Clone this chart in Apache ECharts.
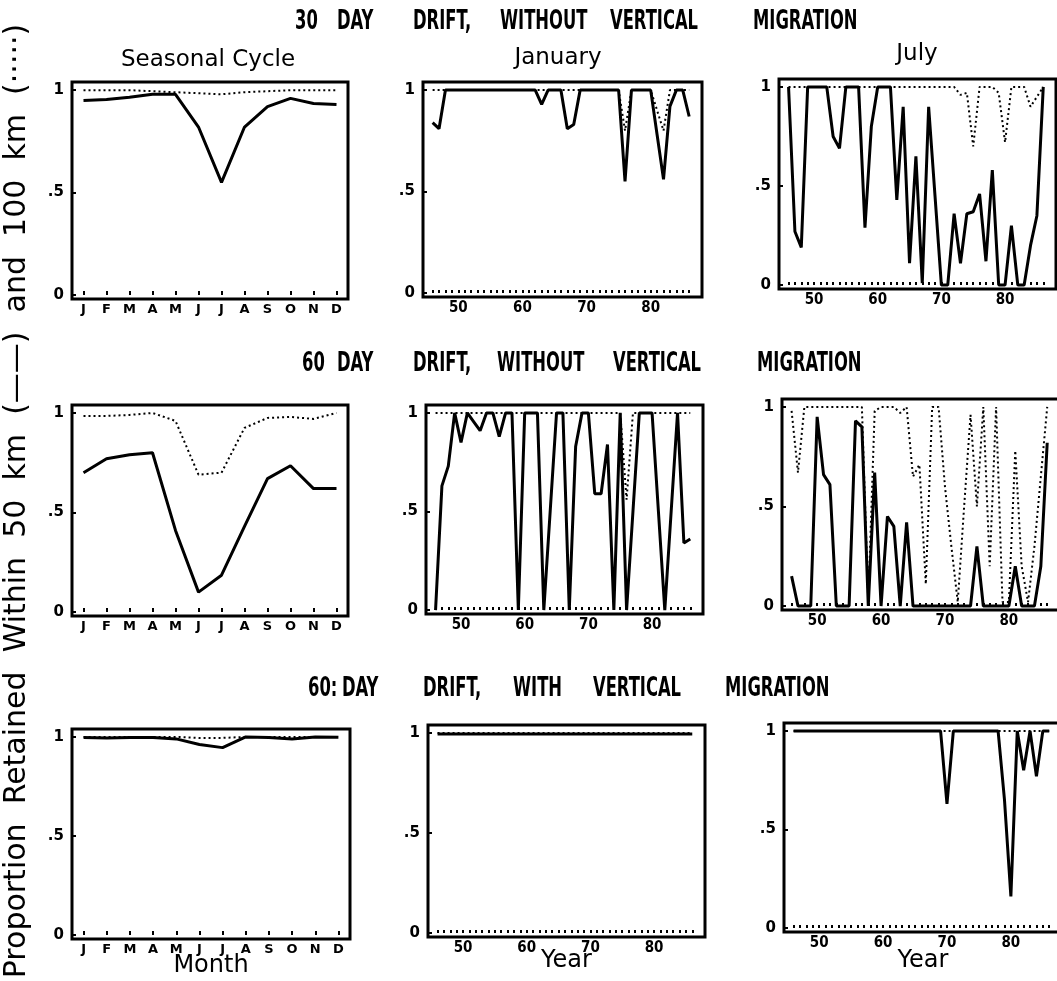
<!DOCTYPE html>
<html>
<head>
<meta charset="utf-8">
<script src="https://cdn.jsdelivr.net/npm/echarts@6/dist/echarts.min.js"></script>
<style>
  html, body { margin: 0; padding: 0; background: #fff; }
  #chart { width: 1057px; height: 981px; }
</style>
</head>
<body>
<div id="chart"></div>
<script>
// tick labels / categories
var months = ['J', 'F', 'M', 'A', 'M', 'J', 'J', 'A', 'S', 'O', 'N', 'D'];
var years = [46, 47, 48, 49, 50, 51, 52, 53, 54, 55, 56, 57, 58, 59, 60, 61, 62, 63, 64, 65,
             66, 67, 68, 69, 70, 71, 72, 73, 74, 75, 76, 77, 78, 79, 80, 81, 82, 83, 84, 85, 86];
var yearLabels = [50, 60, 70, 80];
var valueLabels = [0, 0.5, 1];

var rowTitles = [
    ['30', 'DAY', 'DRIFT,', 'WITHOUT', 'VERTICAL', 'MIGRATION'],
    ['60', 'DAY', 'DRIFT,', 'WITHOUT', 'VERTICAL', 'MIGRATION'],
    ['60:', 'DAY', 'DRIFT,', 'WITH', 'VERTICAL', 'MIGRATION']
];
var columnTitles = ['Seasonal Cycle', 'January', 'July'];
var yName = 'Proportion  Retained  Within  50  km  (——)  and  100  km  (·····)';

// 30 day drift, without vertical migration
var season30Solid  = [0.95, 0.955, 0.965, 0.98, 0.98, 0.82, 0.55, 0.82, 0.92, 0.96, 0.935, 0.93];
var season30Dotted = [1, 1, 1, 0.995, 0.99, 0.985, 0.98, 0.99, 0.995, 1, 1, 1];
var jan30Solid  = [0.84, 0.81, 1, 1, 1, 1, 1, 1, 1, 1, 1, 1, 1, 1, 1, 1, 1, 0.93, 1, 1,
                   1, 0.81, 0.83, 1, 1, 1, 1, 1, 1, 1, 0.55, 1, 1, 1, 1, 0.78, 0.56, 0.92, 1, 1, 0.87];
var jan30Dotted = [1, 1, 1, 1, 1, 1, 1, 1, 1, 1, 1, 1, 1, 1, 1, 1, 1, 1, 1, 1,
                   1, 1, 1, 1, 1, 1, 1, 1, 1, 1, 0.8, 1, 1, 1, 1, 0.9, 0.8, 1, 1, 1, 1];
var jul30Solid  = [1, 0.27, 0.19, 1, 1, 1, 1, 0.75, 0.69, 1, 1, 1, 0.29, 0.8, 1, 1, 1, 0.43, 0.9, 0.11,
                   0.65, 0.01, 0.9, 0.45, 0, 0, 0.36, 0.11, 0.36, 0.37, 0.46, 0.12, 0.58, 0, 0, 0.3, 0, 0, 0.2, 0.35, 1];
var jul30Dotted = [1, 1, 1, 1, 1, 1, 1, 1, 1, 1, 1, 1, 1, 1, 1, 1, 1, 1, 1, 1,
                   1, 1, 1, 1, 1, 1, 1, 0.96, 0.97, 0.7, 1, 1, 1, 0.97, 0.72, 1, 1, 1, 0.9, 0.95, 1];

// 60 day drift, without vertical migration
var season60Solid  = [0.70, 0.77, 0.79, 0.80, 0.41, 0.10, 0.185, 0.43, 0.67, 0.735, 0.62, 0.62];
var season60Dotted = [0.985, 0.985, 0.99, 1, 0.96, 0.69, 0.70, 0.925, 0.975, 0.98, 0.97, 1];
var jan60Solid  = [0, 0.63, 0.73, 1, 0.85, 1, 0.955, 0.91, 1, 1, 0.88, 1, 1, 0, 1, 1, 1, 0, 0.5, 1,
                   1, 0, 0.83, 1, 1, 0.59, 0.59, 0.84, 0, 1, 0, 0.5, 1, 1, 1, 0.5, 0, 0.5, 1, 0.34, 0.36];
var jan60Dotted = [1, 1, 1, 1, 1, 1, 1, 1, 1, 1, 1, 1, 1, 1, 1, 1, 1, 1, 1, 1,
                   1, 1, 1, 1, 1, 1, 1, 1, 1, 1, 0.56, 1, 1, 1, 1, 1, 1, 1, 1, 1, 1];
var jul60Solid  = [0.15, 0, 0, 0, 0.95, 0.66, 0.61, 0, 0, 0, 0.93, 0.9, 0, 0.67, 0, 0.45, 0.4, 0, 0.42, 0,
                   0, 0, 0, 0, 0, 0, 0, 0, 0, 0.3, 0, 0, 0, 0, 0, 0.2, 0, 0, 0, 0.2, 0.82];
var jul60Dotted = [0.98, 0.67, 1, 1, 1, 1, 1, 1, 1, 1, 1, 1, 0.02, 0.98, 1, 1, 1, 0.97, 1, 0.65,
                   0.71, 0.11, 1, 1, 0.6, 0.3, 0.02, 0.5, 0.96, 0.5, 1, 0.2, 1, 0.02, 0.02, 0.78, 0.2, 0.02, 0.3, 0.65, 1];

// 60 day drift, with vertical migration
var season60vSolid  = [0.997, 0.995, 0.997, 0.997, 0.99, 0.962, 0.946, 1, 0.997, 0.99, 1, 0.998];
var season60vDotted = [1, 1, 1, 1, 1, 0.995, 0.995, 1, 1, 1, 1, 1];
var jan60vSolid  = [0.995, 0.995, 0.995, 0.995, 0.995, 0.995, 0.995, 0.995, 0.995, 0.995, 0.995, 0.995, 0.995, 0.995, 0.995, 0.995, 0.995, 0.995, 0.995, 0.995,
                    0.995, 0.995, 0.995, 0.995, 0.995, 0.995, 0.995, 0.995, 0.995, 0.995, 0.995, 0.995, 0.995, 0.995, 0.995, 0.995, 0.995, 0.995, 0.995, 0.995, 0.995];
var jan60vDotted = [1, 1, 1, 1, 1, 1, 1, 1, 1, 1, 1, 1, 1, 1, 1, 1, 1, 1, 1, 1,
                    1, 1, 1, 1, 1, 1, 1, 1, 1, 1, 1, 1, 1, 1, 1, 1, 1, 1, 1, 1, 1];
var jul60vSolid  = [1, 1, 1, 1, 1, 1, 1, 1, 1, 1, 1, 1, 1, 1, 1, 1, 1, 1, 1, 1,
                    1, 1, 1, 1, 0.63, 1, 1, 1, 1, 1, 1, 1, 1, 0.65, 0.16, 1, 0.8, 1, 0.77, 1, 1];
var jul60vDotted = [1, 1, 1, 1, 1, 1, 1, 1, 1, 1, 1, 1, 1, 1, 1, 1, 1, 1, 1, 1,
                    1, 1, 1, 1, 1, 1, 1, 1, 1, 1, 1, 1, 1, 1, 1, 1, 1, 1, 1, 1, 1];

var panels = [
    { kind: 'month', solid: season30Solid,  dotted: season30Dotted },
    { kind: 'year',  solid: jan30Solid,     dotted: jan30Dotted },
    { kind: 'year',  solid: jul30Solid,     dotted: jul30Dotted },
    { kind: 'month', solid: season60Solid,  dotted: season60Dotted },
    { kind: 'year',  solid: jan60Solid,     dotted: jan60Dotted },
    { kind: 'year',  solid: jul60Solid,     dotted: jul60Dotted },
    { kind: 'month', solid: season60vSolid, dotted: season60vDotted, name: 'Month' },
    { kind: 'year',  solid: jan60vSolid,    dotted: jan60vDotted,    name: 'Year' },
    { kind: 'year',  solid: jul60vSolid,    dotted: jul60vDotted,    name: 'Year' }
];

// layout: [left, top, width, height] of each plot box
var boxes = [
    [72, 82, 276, 217], [423, 82, 279, 215], [779, 79, 277, 210],
    [72, 405, 276, 211], [426, 405, 277, 209], [782, 399, 278, 211],
    [72, 729, 278, 210], [428, 725, 277, 212], [784, 723, 278, 209]
];
var nameCenterY = { Month: 966, Year: 961 };
var titleX = [[295, 337, 413, 500, 610, 753], [302, 337, 413, 497, 613, 757], [308, 342, 423, 513, 593, 725]];
var titleY = [22, 364, 689];
var colTitleX = [208, 558, 917];
var colTitleY = [60, 58, 54];

var boldFont = '"DejaVu Sans", sans-serif';
var grid = [], xAxis = [], yAxis = [], series = [];

panels.forEach(function (p, i) {
    var b = boxes[i];
    grid.push({
        left: b[0], top: b[1], width: b[2], height: b[3],
        show: true, borderColor: '#000', borderWidth: 3,
        backgroundColor: 'transparent', outerBoundsMode: 'none'
    });
    var nameOpts = p.name ? {
        name: p.name, nameLocation: 'middle', nameMoveOverlap: false,
        nameGap: nameCenterY[p.name] - (b[1] + b[3]),
        nameTextStyle: { fontFamily: '"DejaVu Sans", sans-serif', fontSize: 24, color: '#000', verticalAlign: 'middle' }
    } : {};
    if (p.kind === 'month') {
        xAxis.push(Object.assign({
            gridIndex: i, type: 'category', data: months, boundaryGap: true,
            axisLine: { show: false },
            axisTick: { show: true, inside: true, alignWithLabel: true, length: 4, lineStyle: { color: '#000', width: 2 } },
            axisLabel: { interval: 0, margin: 4, color: '#000', fontFamily: boldFont, fontWeight: 'bold', fontSize: 13 },
            splitLine: { show: false }
        }, nameOpts));
    } else {
        xAxis.push(Object.assign({
            gridIndex: i, type: 'value', min: 44.5, max: 88,
            axisLine: { show: false },
            axisTick: { show: true, inside: true, length: 3, customValues: years, lineStyle: { color: '#000', width: 2 } },
            axisLabel: { customValues: yearLabels, margin: 4, color: '#000', fontFamily: '"DejaVu Sans Condensed", "DejaVu Sans", sans-serif', fontWeight: 'bold', fontSize: 15 },
            splitLine: { show: false }
        }, nameOpts));
    }
    yAxis.push({
        gridIndex: i, type: 'value', min: -0.02, max: 1.04,
        axisLine: { show: false },
        axisTick: { show: true, inside: true, length: 4, customValues: valueLabels, lineStyle: { color: '#000', width: 2 } },
        axisLabel: {
            customValues: valueLabels, margin: 8, color: '#000',
            fontFamily: boldFont, fontWeight: 'bold', fontSize: 15,
            formatter: function (v) { return v === 0.5 ? '.5' : String(v); }
        },
        splitLine: { show: false }
    });
    var toData = function (vals) {
        return p.kind === 'month' ? vals : years.map(function (y, k) { return [y, vals[k]]; });
    };
    series.push({
        type: 'line', xAxisIndex: i, yAxisIndex: i, data: toData(p.dotted),
        symbol: 'none', silent: true, animation: false,
        lineStyle: { color: '#000', width: 2, type: [2, 3] }
    });
    series.push({
        type: 'line', xAxisIndex: i, yAxisIndex: i, data: toData(p.solid),
        symbol: 'none', silent: true, animation: false,
        lineStyle: { color: '#000', width: 3 }
    });
});

var graphics = [];
rowTitles.forEach(function (words, r) {
    words.forEach(function (w, k) {
        graphics.push({
            type: 'text', x: titleX[r][k], y: titleY[r], scaleX: 0.7,
            style: {
                text: w, fill: '#000',
                font: 'bold 26px "DejaVu Sans Condensed", "DejaVu Sans", sans-serif',
                align: 'left', verticalAlign: 'middle'
            }
        });
    });
});
columnTitles.forEach(function (t, c) {
    graphics.push({
        type: 'text', x: colTitleX[c], y: colTitleY[c],
        style: {
            text: t, fill: '#000', font: '23px "DejaVu Sans", sans-serif',
            align: 'center', verticalAlign: 'middle'
        }
    });
});
graphics.push({
    type: 'text', x: 17, y: 501, rotation: Math.PI / 2,
    style: {
        text: yName, fill: '#000', font: '30px "DejaVu Sans", sans-serif',
        align: 'center', verticalAlign: 'middle'
    }
});

var chart = echarts.init(document.getElementById('chart'));
chart.setOption({
    backgroundColor: '#fff',
    animation: false,
    grid: grid,
    xAxis: xAxis,
    yAxis: yAxis,
    series: series,
    graphic: { elements: graphics }
});
</script>
</body>
</html>
